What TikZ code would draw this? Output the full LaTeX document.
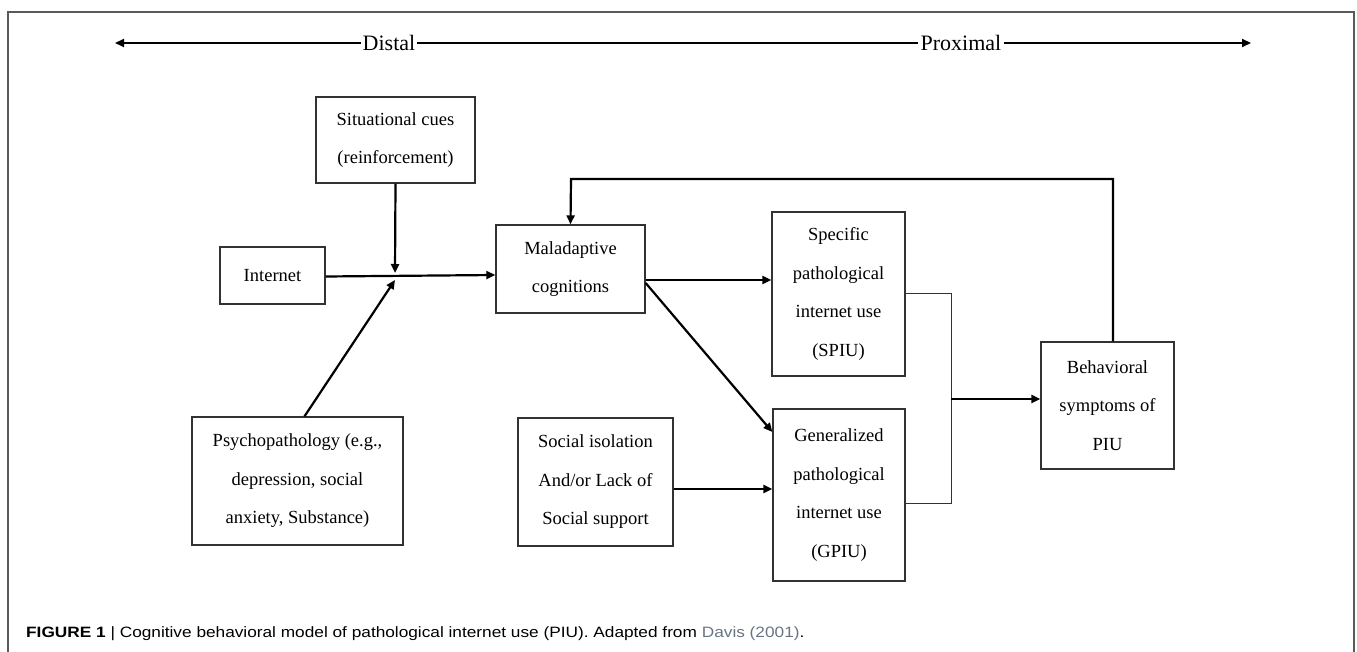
\documentclass[tikz,border=0pt]{standalone}
\usepackage{fontspec}
\setmainfont{Liberation Serif}
\newfontfamily\capfont[FakeStretch=1.15]{Liberation Sans}
\usetikzlibrary{arrows.meta}
\definecolor{framegray}{RGB}{90,90,90}
\definecolor{linkgray}{RGB}{105,115,130}
\definecolor{boxgray}{RGB}{50,50,50}
\begin{document}
\begin{tikzpicture}[x=1pt,y=-1pt,
  box/.style={draw=boxgray, line width=1.3pt, inner sep=0pt, align=center,
    font=\fontsize{18.5}{38.5}\selectfont},
  arr/.style={line width=2.2pt, -{Triangle[length=9pt,width=8pt]}},
  thinline/.style={line width=1pt, boxgray},
  toplabel/.style={inner sep=2pt, font=\fontsize{22}{26}\selectfont}]
\useasboundingbox (0,0) rectangle (1357,652);
\draw[framegray, line width=1.5pt] (8,652) -- (8,12) -- (1354,12) -- (1354,652);
% top axis
\node[toplabel] (dist) at (389,43) {Distal};
\node[toplabel] (prox) at (961,43) {Proximal};
\coordinate (lend) at (115,43);
\coordinate (rend) at (1251,43);
\draw[arr, line width=1.9pt] (dist.west) -- (lend);
\draw[line width=1.2pt] (dist.east) -- (prox.west);
\draw[arr, line width=1.9pt] (prox.east) -- (rend);
% boxes
\node[box, minimum width=159pt, minimum height=86pt] (sit) at (395.5,140) {Situational cues\\(reinforcement)};
\node[box, minimum width=105pt, minimum height=57pt] (inet) at (272.5,275.5) {Internet};
\node[box, minimum width=149pt, minimum height=88pt] (mal) at (570.5,269) {Maladaptive\\cognitions};
\node[box, minimum width=133pt, minimum height=164pt] (spiu) at (838.5,294) {Specific\\pathological\\internet use\\(SPIU)};
\node[box, minimum width=132pt, minimum height=172pt] (gpiu) at (839,495) {Generalized\\pathological\\internet use\\(GPIU)};
\node[box, minimum width=133pt, minimum height=127pt] (beh) at (1107.5,405.5) {Behavioral\\symptoms of\\PIU};
\node[box, minimum width=155pt, minimum height=128pt] (soc) at (595.5,482) {Social isolation\\And/or Lack of\\Social support};
\node[box, minimum width=211pt, minimum height=128pt] (psy) at (297.5,481) {Psychopathology (e.g.,\\depression, social\\anxiety, Substance)};
% connectors
\coordinate (junc) at (395,276);
\draw[arr] (sit.south) -- ([yshift=3pt]junc);
\draw[arr] ([xshift=7pt]psy.north) -- ([yshift=-4pt]junc);
\draw[arr] ([yshift=-1pt]inet.east) -- ([yshift=-6pt]mal.west);
\draw[arr] ([yshift=-11pt]mal.east) -- ([yshift=14pt]spiu.west);
\draw[arr] ([yshift=-14pt]mal.east) -- ([yshift=63pt]gpiu.west);
\draw[arr] ([yshift=-7pt]soc.east) -- ([yshift=6pt]gpiu.west);
\coordinate (brk) at (951,399);
\draw[thinline] (spiu.east) -| (brk) |- ([yshift=-8pt]gpiu.east);
\draw[arr] (brk) -- ([yshift=6.5pt]beh.west);
\coordinate (fb) at (571,179);
\draw[arr] ([xshift=5.5pt]beh.north) |- (fb) -- (mal.north);
% caption
\node[anchor=base west, inner sep=0pt, font=\capfont\fontsize{15}{18}\selectfont] (cap) at (26,637)
  {\textbf{FIGURE 1} | Cognitive behavioral model of pathological internet use (PIU). Adapted from \textcolor{linkgray}{Davis (2001)}.};
\end{tikzpicture}
\end{document}
